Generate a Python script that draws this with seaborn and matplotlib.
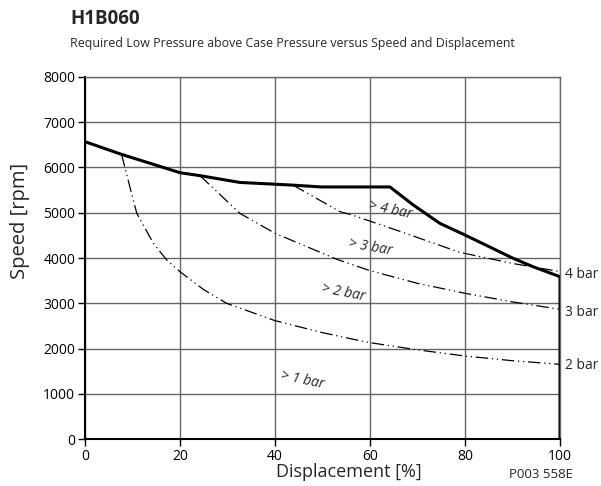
import matplotlib
matplotlib.use("Agg")
import matplotlib.pyplot as plt
import seaborn as sns
import pandas as pd

# ---- data ----
env_x = [0, 7.7, 20, 24.2, 32.6, 43.8, 49.8, 64.2, 69, 74.7, 80, 90, 94.3, 100, 100]
env_y = [6570, 6290, 5885, 5820, 5670, 5610, 5570, 5570, 5180, 4766, 4508, 4000, 3808, 3587, 0]

bar4_x = [43.8, 53.7, 55.8, 66, 78.9, 90, 100]
bar4_y = [5610, 5023, 4965, 4600, 4125, 3880, 3700]

bar3_x = [24.2, 32.6, 40, 53, 60, 70, 80, 90, 100]
bar3_y = [5820, 4988, 4546, 3972, 3720, 3440, 3220, 3030, 2866]

bar2_x = [7.7, 9.5, 10.9, 14.4, 17.2, 20, 25, 29.8, 40, 50, 57.2, 60, 70, 80, 90, 100]
bar2_y = [6290, 5550, 4988, 4325, 3956, 3697, 3300, 2999, 2615, 2350, 2188, 2129, 1970, 1834, 1730, 1650]

x_ticks = [0, 20, 40, 60, 80, 100]
y_ticks = [0, 1000, 2000, 3000, 4000, 5000, 6000, 7000, 8000]

curve_labels = ["> 4 bar", "> 3 bar", "> 2 bar", "> 1 bar"]
end_labels = ["4 bar", "3 bar", "2 bar"]

title = "H1B060"
subtitle = "Required Low Pressure above Case Pressure versus Speed and Displacement"
# --------------------------------------

sns.set_theme(style="white")
plt.rcParams["font.family"] = ["Open Sans", "DejaVu Sans"]

fig = plt.figure(figsize=(6.01, 4.86), dpi=100)
ax = fig.add_axes([85/601, 47/486, 475/601, 362/486])

dash = (0, (10, 3, 1, 3, 1, 3))

def frame(xs, ys, name):
    return pd.DataFrame({"x": xs, "y": ys, "c": name})

for xs, ys, nm in [(bar2_x, bar2_y, "2"), (bar3_x, bar3_y, "3"), (bar4_x, bar4_y, "4")]:
    sns.lineplot(data=frame(xs, ys, nm), x="x", y="y", sort=False, ax=ax,
                 color="black", lw=0.9, linestyle=dash, estimator=None)
sns.lineplot(data=frame(env_x, env_y, "env"), x="x", y="y", sort=False, ax=ax,
             color="black", lw=2.2, estimator=None)

ax.set_xlim(0, 100)
ax.set_ylim(0, 8000)
ax.set_xticks(x_ticks)
ax.set_yticks(y_ticks)
ax.set_xticklabels([str(v) for v in x_ticks])
ax.set_yticklabels([str(v) for v in y_ticks])
ax.grid(True, color="#666666", lw=1.0)
ax.tick_params(axis="both", labelsize=10, length=5, width=1, direction="out",
               bottom=True, left=True, pad=2, colors="black")
for s in ["left", "bottom"]:
    ax.spines[s].set_color("black")
    ax.spines[s].set_linewidth(1.5)
for s in ["top", "right"]:
    ax.spines[s].set_color("#666666")
    ax.spines[s].set_linewidth(1.0)

ax.set_xlabel("Displacement [%]", fontsize=13)
ax.xaxis.set_label_coords((349 - 85) / 475, (439 - 472) / 362)
ax.xaxis.label.set_verticalalignment("center")
ax.set_ylabel("Speed [rpm]", fontsize=14.5)
ax.yaxis.set_label_coords((20 - 85) / 475, (439 - 221) / 362)
ax.yaxis.label.set_verticalalignment("center")

# curve labels
ax.text(64.2, 5060, curve_labels[0], fontsize=10, style="italic", rotation=-12, ha="center", va="center")
ax.text(60.0, 4243, curve_labels[1], fontsize=10, style="italic", rotation=-10, ha="center", va="center")
ax.text(54.3, 3226, curve_labels[2], fontsize=10, style="italic", rotation=-11, ha="center", va="center")
ax.text(45.7, 1304, curve_labels[3], fontsize=10, style="italic", rotation=-12, ha="center", va="center")

ax.text(101.0, 3646, end_labels[0], fontsize=10, ha="left", va="center", clip_on=False)
ax.text(101.0, 2790, end_labels[1], fontsize=10, ha="left", va="center", clip_on=False)
ax.text(101.0, 1635, end_labels[2], fontsize=10, ha="left", va="center", clip_on=False)

fig.text(573/601, 1 - 474/486, "P003 558E", fontsize=9.5, ha="right", va="center")
fig.text(70/601, 1 - 19/486, title, fontsize=13.5, fontweight="bold", ha="left", va="center")
fig.text(70/601, 1 - 44/486, subtitle, fontsize=8.9, ha="left", va="center")

fig.savefig("out.png", dpi=100, facecolor="white")
